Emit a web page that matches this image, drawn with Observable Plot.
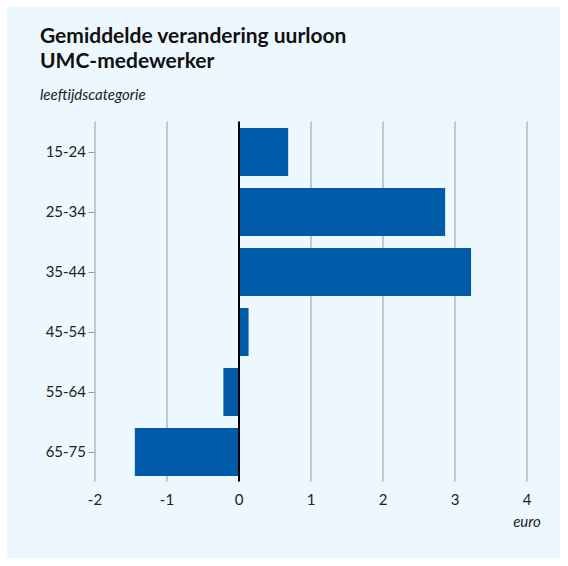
<!DOCTYPE html>
<html><head><meta charset="utf-8">
<script src="https://cdn.jsdelivr.net/npm/d3@7"></script>
<script src="https://cdn.jsdelivr.net/npm/@observablehq/plot@0.6"></script>
<style>
body{margin:0;background:#fff;font-family:Lato,"Noto Sans",sans-serif;}
#wrap{position:relative;width:568px;height:566px;overflow:hidden;}
#panel{position:absolute;left:7px;top:7px;width:553px;height:551px;background:#edf7fe;}
#title{position:absolute;left:40px;top:22px;font-size:21px;font-weight:700;line-height:25px;color:#111;}
#sub{position:absolute;left:40px;top:85px;font-size:15px;font-style:italic;color:#222;}
#chart{position:absolute;left:0;top:0;}
</style></head><body>
<div id="wrap"><div id="panel"></div>
<div id="title">Gemiddelde verandering uurloon<br>UMC-medewerker</div>
<div id="sub">leeftijdscategorie</div>
<div id="chart"></div></div>
<script>
const categories = ["15-24","25-34","35-44","45-54","55-64","65-75"];
const values = [0.69, 2.87, 3.23, 0.14, -0.21, -1.44];
const xTicks = [-2,-1,0,1,2,3,4];
const data = categories.map((c,i)=>({cat:c, v:values[i]}));
const plot = Plot.plot({
  width:568, height:566,
  marginLeft:94.5, marginRight:41.5, marginTop:121.5, marginBottom:84.5,
  style:{background:"transparent", fontFamily:"Lato, 'Noto Sans', sans-serif", fontSize:"15px", color:"#222"},
  x:{domain:[-2,4], ticks:xTicks, label:null},
  y:{domain:categories, paddingInner:0.2, paddingOuter:0.1, label:null},
  marks:[
    Plot.ruleX(xTicks, {stroke:"#999", strokeWidth:1, strokeOpacity:1}),
    Plot.barX(data, {x:"v", y:"cat", fill:"#005ca9"}),
    Plot.ruleX([0], {stroke:"#000", strokeWidth:2}),
    Plot.axisX({ticks:xTicks, tickSize:0, tickPadding:12, tickFormat:d=>String(d), fontSize:15}),
    Plot.axisY({tickSize:6, tickPadding:3, stroke:"#999", fontSize:15}),
    Plot.text(["euro"], {frameAnchor:"bottom-right", dx:0, dy:45, fontStyle:"italic", fontSize:15, textAnchor:"middle"})
  ]
});
document.getElementById("chart").appendChild(plot);
</script></body></html>
